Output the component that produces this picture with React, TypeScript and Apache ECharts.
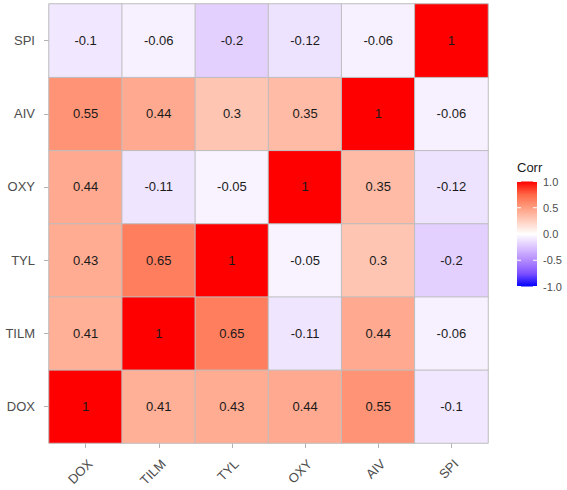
import { useEffect, useRef } from "react";
import * as echarts from "echarts";

// Variables, in axis order (x: left to right, y: bottom to top)
const variables = ["DOX", "TILM", "TYL", "OXY", "AIV", "SPI"];

// Correlation of each variable with DOX, TILM, TYL, OXY, AIV, SPI
const corrDOX = [1, 0.41, 0.43, 0.44, 0.55, -0.1];
const corrTILM = [0.41, 1, 0.65, -0.11, 0.44, -0.06];
const corrTYL = [0.43, 0.65, 1, -0.05, 0.3, -0.2];
const corrOXY = [0.44, -0.11, -0.05, 1, 0.35, -0.12];
const corrAIV = [0.55, 0.44, 0.3, 0.35, 1, -0.06];
const corrSPI = [-0.1, -0.06, -0.2, -0.12, -0.06, 1];

const legendTitle = "Corr";
const legendTicks = [1.0, 0.5, 0.0, -0.5, -1.0];

// Diverging blue - white - red scale (stops sampled along a Lab blend), from -1 to 1
const scaleColors = [
  "#0000FF",
  "#7E51FF",
  "#B38BFF",
  "#DCC4FF",
  "#FFFFFF",
  "#FFCFBF",
  "#FF9E81",
  "#FF6846",
  "#FF0000",
];

const FONT = "'Liberation Sans', Arial, Helvetica, sans-serif";

export default function App() {
  const ref = useRef<HTMLDivElement>(null);

  useEffect(() => {
    if (!ref.current) return;
    const chart = echarts.init(ref.current, undefined, { renderer: "svg" });

    const rows = [corrDOX, corrTILM, corrTYL, corrOXY, corrAIV, corrSPI];
    const data: [number, number, number][] = [];
    rows.forEach((row, yi) => {
      row.forEach((v, xi) => data.push([xi, yi, v]));
    });

    // colour bar geometry
    const barX = 517;
    const barY = 181.5;
    const barW = 20;
    const barH = 105;
    const valueToY = (v: number) => barY + ((1 - v) / 2) * barH;

    const gradientStops = scaleColors
      .slice()
      .reverse()
      .map((c, i) => ({ offset: i / (scaleColors.length - 1), color: c }));

    const graphics: any[] = [
      {
        type: "text",
        left: barX,
        top: 161,
        style: {
          text: legendTitle,
          font: `13px ${FONT}`,
          fill: "#1a1a1a",
        },
      },
      {
        type: "rect",
        shape: { x: barX, y: barY, width: barW, height: barH },
        style: {
          fill: new echarts.graphic.LinearGradient(0, 0, 0, 1, gradientStops),
        },
      },
    ];
    legendTicks.forEach((v) => {
      const y = valueToY(v);
      graphics.push(
        {
          type: "line",
          shape: { x1: barX, y1: y, x2: barX + 4, y2: y },
          style: { stroke: "#ffffff", lineWidth: 1 },
        },
        {
          type: "line",
          shape: { x1: barX + barW - 4, y1: y, x2: barX + barW, y2: y },
          style: { stroke: "#ffffff", lineWidth: 1 },
        },
        {
          type: "text",
          x: barX + barW + 6,
          y,
          style: {
            text: v.toFixed(1),
            font: `11px ${FONT}`,
            fill: "#4d4d4d",
            textAlign: "left",
            align: "left",
            textVerticalAlign: "middle",
            verticalAlign: "middle",
          },
        }
      );
    });

    const tickStyle = { color: "#b3b3b3", width: 1 };

    chart.setOption({
      animation: false,
      backgroundColor: "#ffffff",
      textStyle: { fontFamily: FONT },
      grid: { left: 49, top: 4, width: 439, height: 439 },
      xAxis: {
        type: "category",
        data: variables,
        axisLine: { show: false },
        axisTick: { show: true, alignWithLabel: true, length: 5, lineStyle: tickStyle },
        splitLine: { show: false },
        axisLabel: {
          rotate: 45,
          margin: 14,
          verticalAlign: "top",
          color: "#4d4d4d",
          fontSize: 13,
          fontFamily: FONT,
          interval: 0,
        },
      },
      yAxis: {
        type: "category",
        data: variables,
        axisLine: { show: false },
        axisTick: { show: true, alignWithLabel: true, length: 5, lineStyle: tickStyle },
        splitLine: { show: false },
        axisLabel: {
          margin: 14,
          color: "#4d4d4d",
          fontSize: 13,
          fontFamily: FONT,
          interval: 0,
        },
      },
      visualMap: {
        show: false,
        type: "continuous",
        dimension: 2,
        min: -1,
        max: 1,
        inRange: { color: scaleColors },
      },
      graphic: graphics,
      series: [
        {
          type: "heatmap",
          data,
          itemStyle: { borderColor: "#bdbdbd", borderWidth: 1 },
          emphasis: { disabled: true },
          label: {
            show: true,
            formatter: (p: any) => String(p.value[2]),
            color: "#1a1a1a",
            fontSize: 13,
            fontFamily: FONT,
          },
        },
      ],
    });

    return () => chart.dispose();
  }, []);

  return (
    <div
      ref={ref}
      style={{ position: "fixed", left: 0, top: 0, width: 567, height: 490 }}
    />
  );
}
